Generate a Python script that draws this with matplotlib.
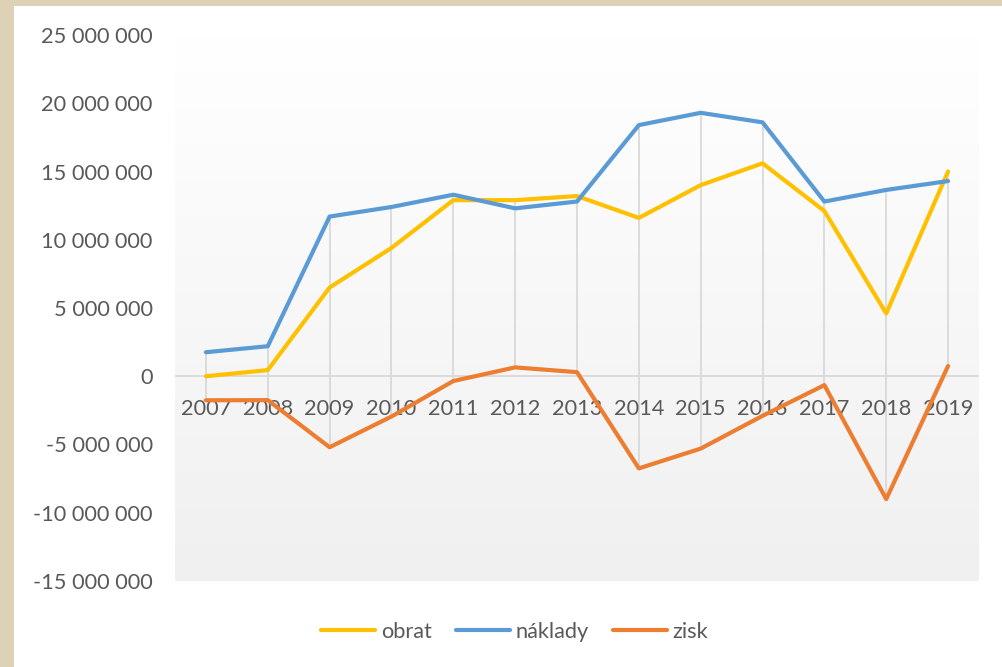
import numpy as np
import matplotlib
matplotlib.use("Agg")
import matplotlib.pyplot as plt
from matplotlib.patches import Rectangle
from matplotlib.colors import LinearSegmentedColormap

years = ["2007", "2008", "2009", "2010", "2011", "2012", "2013",
         "2014", "2015", "2016", "2017", "2018", "2019"]
obrat = [0.0, 0.45e6, 6.5e6, 9.4e6, 12.9e6, 12.9e6, 13.2e6,
         11.6e6, 14.0e6, 15.6e6, 12.1e6, 4.6e6, 15.0e6]
naklady = [1.76e6, 2.2e6, 11.7e6, 12.4e6, 13.3e6, 12.3e6, 12.8e6,
           18.4e6, 19.3e6, 18.6e6, 12.8e6, 13.65e6, 14.3e6]
zisk = [-1.76e6, -1.75e6, -5.2e6, -2.95e6, -0.35e6, 0.65e6, 0.3e6,
        -6.75e6, -5.3e6, -2.9e6, -0.65e6, -9.0e6, 0.75e6]
series_names = ["obrat", "náklady", "zisk"]
yticks = [-15e6, -10e6, -5e6, 0, 5e6, 10e6, 15e6, 20e6, 25e6]

colors = ["#FFC000", "#5B9BD5", "#ED7D31"]
txt = "#595959"
plt.rcParams["font.family"] = ["Lato", "DejaVu Sans"]

W, H = 1003, 667
fig = plt.figure(figsize=(W / 100, H / 100), dpi=100)
fig.patch.set_facecolor("#DDD1B6")
fig.patches.append(Rectangle((14 / W, 0), 1 - 14 / W, 1 - 6 / H,
                             transform=fig.transFigure, facecolor="white",
                             edgecolor="none", zorder=-10))

ax = fig.add_axes([175 / W, 1 - 581 / H, (979 - 175) / W, (581 - 35) / H])
ax.set_zorder(1)
ax.set_facecolor("none")
for s in ax.spines.values():
    s.set_visible(False)

# gradient plot-area fill
cmap = LinearSegmentedColormap.from_list("g", ["#f0f0f0", "#ffffff"])
grad = np.linspace(0, 1, 256).reshape(-1, 1)
ax.imshow(grad, cmap=cmap, extent=[0, 1, 0, 1], transform=ax.transAxes,
          aspect="auto", origin="lower", zorder=0)

x = np.arange(len(years))
ax.set_xlim(-0.5, len(years) - 0.5)
ax.set_ylim(-15e6, 25e6)

# zero axis line
ax.axhline(0, color="#d9d9d9", lw=1.3, zorder=1)

# high-low lines
data = np.array([obrat, naklady, zisk])
ax.vlines(x, data.min(axis=0), data.max(axis=0), color="#d9d9d9", lw=1.3, zorder=1)

for vals, c, name in zip([obrat, naklady, zisk], colors, series_names):
    ax.plot(x, vals, color=c, lw=3.0, solid_capstyle="round",
            solid_joinstyle="round", label=name, zorder=3)

ax.set_yticks(yticks)
ax.set_yticklabels([f"{int(v):,}".replace(",", " ") for v in yticks])
ax.tick_params(axis="y", length=0, pad=16, labelsize=15.7, labelcolor=txt)
ax.set_xticks([])

for i, y in enumerate(years):
    ax.annotate(y, xy=(i, 0), xytext=(0, -23.5), textcoords="offset points",
                ha="center", va="center", fontsize=15.7, color=txt, zorder=2)

fig.legend(loc="center", bbox_to_anchor=(514.5 / W, 1 - 632 / H), ncol=3,
           frameon=False, fontsize=15.7, handlelength=2.5, handletextpad=0.25,
           columnspacing=1.1, labelcolor=txt)

fig.savefig("out.png", dpi=100)
